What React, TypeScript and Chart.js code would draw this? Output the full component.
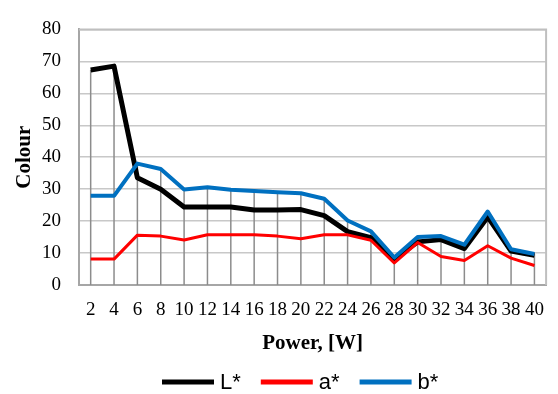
import React, { useEffect, useRef } from "react";
import { Chart, registerables } from "chart.js";

Chart.register(...registerables);

const categories = ["2","4","6","8","10","12","14","16","18","20","22","24","26","28","30","32","34","36","38","40"];
const lStar = [67.3, 68.5, 33.6, 30.0, 24.4, 24.4, 24.4, 23.5, 23.5, 23.6, 21.7, 16.7, 14.8, 8.2, 13.5, 14.2, 11.4, 21.3, 10.6, 9.3];
const aStar = [8.1, 8.1, 15.6, 15.3, 14.1, 15.7, 15.7, 15.7, 15.3, 14.5, 15.7, 15.7, 14.0, 6.9, 13.3, 8.9, 7.7, 12.3, 8.4, 6.1];
const bStar = [27.9, 27.9, 38.0, 36.3, 29.9, 30.6, 29.8, 29.4, 29.0, 28.7, 27.0, 20.2, 16.8, 8.6, 15.0, 15.3, 12.6, 23.0, 11.2, 9.7];
const yTicks = [0, 10, 20, 30, 40, 50, 60, 70, 80];

const seriesNames = ["L*", "a*", "b*"];
const seriesColors = ["#000000", "#FF0000", "#0070C0"];
const seriesWidths = [5, 3, 4];

const dropLines = {
  id: "dropLines",
  beforeDatasetsDraw(chart: any) {
    const { ctx, scales } = chart;
    const x = scales.x;
    const y = scales.y;
    ctx.save();
    ctx.strokeStyle = "#8c8c8c";
    ctx.lineWidth = 1.5;
    categories.forEach((_, i) => {
      const top = Math.max(lStar[i], aStar[i], bStar[i]);
      const px = x.getPixelForValue(i);
      ctx.beginPath();
      ctx.moveTo(px, y.getPixelForValue(0));
      ctx.lineTo(px, y.getPixelForValue(top));
      ctx.stroke();
    });
    ctx.restore();
  },
  afterDraw(chart: any) {
    const { ctx, chartArea } = chart;
    ctx.save();
    ctx.strokeStyle = "#bfbfbf";
    ctx.lineWidth = 2;
    ctx.beginPath();
    ctx.moveTo(chartArea.left, chartArea.top);
    ctx.lineTo(chartArea.right, chartArea.top);
    ctx.lineTo(chartArea.right, chartArea.bottom);
    ctx.stroke();
    ctx.font = "22px 'Liberation Sans', Arial, sans-serif";
    ctx.textBaseline = "middle";
    ctx.textAlign = "left";
    const lineLen = 52;
    const gapText = 6;
    const gapItem = 20;
    const ly = 382;
    const widths = seriesNames.map((n) => lineLen + gapText + ctx.measureText(n).width);
    let lx = 162;
    seriesNames.forEach((n, i) => {
      ctx.strokeStyle = seriesColors[i];
      ctx.lineWidth = 5;
      ctx.lineCap = "butt";
      ctx.beginPath();
      ctx.moveTo(lx, ly);
      ctx.lineTo(lx + lineLen, ly);
      ctx.stroke();
      ctx.fillStyle = "#000000";
      ctx.fillText(n, lx + lineLen + gapText, ly + 1);
      lx += widths[i] + gapItem;
    });
    ctx.restore();
  },
};

export default function App() {
  const ref = useRef<HTMLCanvasElement>(null);
  useEffect(() => {
    document.body.style.margin = "0";
    const data = [lStar, aStar, bStar];
    const chart = new Chart(ref.current as HTMLCanvasElement, {
      type: "line",
      data: {
        labels: categories,
        datasets: data.map((d, i) => ({
          label: seriesNames[i],
          data: d,
          borderColor: seriesColors[i],
          backgroundColor: seriesColors[i],
          borderWidth: seriesWidths[i],
          pointRadius: 0,
          tension: 0,
          borderJoinStyle: "round" as const,
          order: 3 - i,
        })),
      },
      options: {
        animation: false,
        responsive: false,
        maintainAspectRatio: false,
        layout: { padding: { top: 15, right: 3, bottom: 38, left: 0 } },
        plugins: { legend: { display: false }, tooltip: { enabled: false } },
        scales: {
          x: {
            offset: true,
            grid: { display: false, drawTicks: false },
            border: { display: true, color: "#a6a6a6", width: 2 },
            ticks: {
              color: "#000",
              padding: 14,
              maxRotation: 0,
              autoSkip: false,
              font: { family: "'Liberation Serif', 'Times New Roman', serif", size: 19 },
            },
            title: {
              display: true,
              text: "Power, [W]",
              color: "#000",
              padding: { top: 0, bottom: 0 },
              font: { family: "'Liberation Serif', 'Times New Roman', serif", size: 21, weight: "bold" },
            },
            afterFit(scale: any) {
              scale.height = 71;
            },
          },
          y: {
            min: 0,
            max: 80,
            afterBuildTicks(scale: any) {
              scale.ticks = yTicks.map((v) => ({ value: v }));
            },
            grid: { color: "#c8c8c8", lineWidth: 1.5, drawTicks: false },
            border: { display: true, color: "#a6a6a6", width: 2 },
            ticks: {
              color: "#000",
              padding: 18,
              font: { family: "'Liberation Serif', 'Times New Roman', serif", size: 19 },
            },
            title: {
              display: true,
              text: "Colour",
              color: "#000",
              padding: { top: 12, bottom: 0 },
              font: { family: "'Liberation Serif', 'Times New Roman', serif", size: 21, weight: "bold" },
            },
            afterFit(scale: any) {
              scale.width = 79;
            },
          },
        },
      },
      plugins: [dropLines],
    });
    return () => chart.destroy();
  }, []);
  return <canvas ref={ref} width={558} height={394} style={{ display: "block" }} />;
}
